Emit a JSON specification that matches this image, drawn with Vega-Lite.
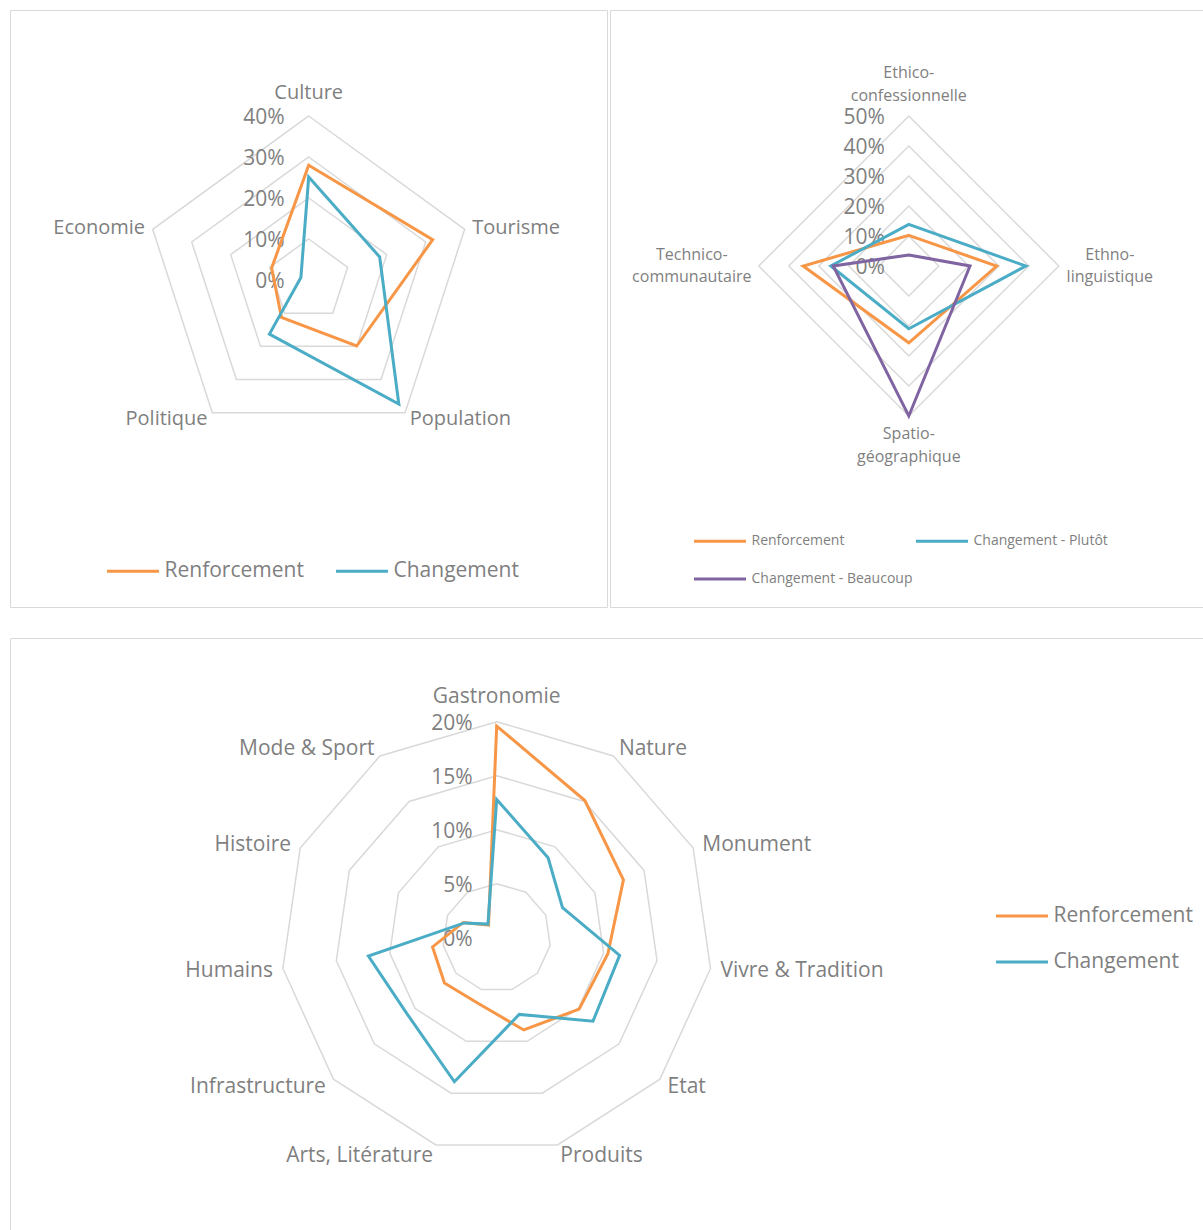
{
  "$schema": "https://vega.github.io/schema/vega-lite/v6.json",
  "padding": {"left": 9, "top": 9, "right": 0, "bottom": 0},
  "background": "white",
  "config": {
    "view": {"stroke": "#d9d9d9", "strokeWidth": 1},
    "font": "Open Sans",
    "text": {"font": "Open Sans", "color": "#7f7f7f"},
    "legend": {"title": null, "orient": "none", "symbolType": "stroke", "symbolSize": 2704, "symbolStrokeWidth": 3, "labelFont": "Open Sans", "labelColor": "#7f7f7f", "labelOffset": 4, "padding": 0, "labelLimit": 400}
  },
  "datasets": {
    "c1": [
      {"s": "Renforcement", "cat": "Culture", "k": 0, "v": 0.28},
      {"s": "Renforcement", "cat": "Tourisme", "k": 1, "v": 0.318},
      {"s": "Renforcement", "cat": "Population", "k": 2, "v": 0.199},
      {"s": "Renforcement", "cat": "Politique", "k": 3, "v": 0.113},
      {"s": "Renforcement", "cat": "Economie", "k": 4, "v": 0.095},
      {"s": "Changement", "cat": "Culture", "k": 0, "v": 0.251},
      {"s": "Changement", "cat": "Tourisme", "k": 1, "v": 0.182},
      {"s": "Changement", "cat": "Population", "k": 2, "v": 0.374},
      {"s": "Changement", "cat": "Politique", "k": 3, "v": 0.163},
      {"s": "Changement", "cat": "Economie", "k": 4, "v": 0.02}
    ],
    "c2": [
      {"s": "Renforcement", "cat": "Ethico-confessionnelle", "k": 0, "v": 0.102},
      {"s": "Renforcement", "cat": "Ethno-linguistique", "k": 1, "v": 0.293},
      {"s": "Renforcement", "cat": "Spatio-géographique", "k": 2, "v": 0.256},
      {"s": "Renforcement", "cat": "Technico-communautaire", "k": 3, "v": 0.352},
      {"s": "Changement - Plutôt", "cat": "Ethico-confessionnelle", "k": 0, "v": 0.139},
      {"s": "Changement - Plutôt", "cat": "Ethno-linguistique", "k": 1, "v": 0.39},
      {"s": "Changement - Plutôt", "cat": "Spatio-géographique", "k": 2, "v": 0.209},
      {"s": "Changement - Plutôt", "cat": "Technico-communautaire", "k": 3, "v": 0.26},
      {"s": "Changement - Beaucoup", "cat": "Ethico-confessionnelle", "k": 0, "v": 0.037},
      {"s": "Changement - Beaucoup", "cat": "Ethno-linguistique", "k": 1, "v": 0.204},
      {"s": "Changement - Beaucoup", "cat": "Spatio-géographique", "k": 2, "v": 0.5},
      {"s": "Changement - Beaucoup", "cat": "Technico-communautaire", "k": 3, "v": 0.252}
    ],
    "c3": [
      {"s": "Renforcement", "cat": "Gastronomie", "k": 0, "v": 0.196},
      {"s": "Renforcement", "cat": "Nature", "k": 1, "v": 0.151},
      {"s": "Renforcement", "cat": "Monument", "k": 2, "v": 0.129},
      {"s": "Renforcement", "cat": "Vivre & Tradition", "k": 3, "v": 0.104},
      {"s": "Renforcement", "cat": "Etat", "k": 4, "v": 0.101},
      {"s": "Renforcement", "cat": "Produits", "k": 5, "v": 0.089},
      {"s": "Renforcement", "cat": "Arts, Litérature", "k": 6, "v": 0.063},
      {"s": "Renforcement", "cat": "Infrastructure", "k": 7, "v": 0.064},
      {"s": "Renforcement", "cat": "Humains", "k": 8, "v": 0.06},
      {"s": "Renforcement", "cat": "Histoire", "k": 9, "v": 0.034},
      {"s": "Renforcement", "cat": "Mode & Sport", "k": 10, "v": 0.014},
      {"s": "Changement", "cat": "Gastronomie", "k": 0, "v": 0.128},
      {"s": "Changement", "cat": "Nature", "k": 1, "v": 0.088},
      {"s": "Changement", "cat": "Monument", "k": 2, "v": 0.067},
      {"s": "Changement", "cat": "Vivre & Tradition", "k": 3, "v": 0.115},
      {"s": "Changement", "cat": "Etat", "k": 4, "v": 0.118},
      {"s": "Changement", "cat": "Produits", "k": 5, "v": 0.074},
      {"s": "Changement", "cat": "Arts, Litérature", "k": 6, "v": 0.139},
      {"s": "Changement", "cat": "Infrastructure", "k": 7, "v": 0.109},
      {"s": "Changement", "cat": "Humains", "k": 8, "v": 0.12},
      {"s": "Changement", "cat": "Histoire", "k": 9, "v": 0.033},
      {"s": "Changement", "cat": "Mode & Sport", "k": 10, "v": 0.015}
    ]
  },
  "spacing": 29,
  "resolve": {"scale": {"color": "independent", "x": "independent", "y": "independent"}, "legend": {"color": "independent"}},
  "vconcat": [
    {
      "spacing": 1,
      "resolve": {"scale": {"color": "independent", "x": "independent", "y": "independent"}, "legend": {"color": "independent"}},
      "hconcat": [
        {
          "width": 597,
          "height": 597,
          "encoding": {
            "x": {"field": "px", "type": "quantitative", "scale": {"domain": [-1.8213, 1.8189], "nice": false, "zero": false}, "axis": null},
            "y": {"field": "py", "type": "quantitative", "scale": {"domain": [-1.9939, 1.6463], "nice": false, "zero": false}, "axis": null}
          },
          "layer": [
            {
              "data": {"values": [{"lvl": 0.1, "k": [0, 1, 2, 3, 4]}, {"lvl": 0.2, "k": [0, 1, 2, 3, 4]}, {"lvl": 0.3, "k": [0, 1, 2, 3, 4]}, {"lvl": 0.4, "k": [0, 1, 2, 3, 4]}]},
              "transform": [
                {"flatten": ["k"]},
                {"calculate": "datum.lvl / 0.4 * sin(2 * PI * datum.k / 5)", "as": "px"},
                {"calculate": "datum.lvl / 0.4 * cos(2 * PI * datum.k / 5)", "as": "py"}
              ],
              "mark": {"type": "line", "interpolate": "linear-closed", "stroke": "#d9d9d9", "strokeWidth": 1.5},
              "encoding": {"detail": {"field": "lvl", "type": "nominal"}, "order": {"field": "k", "type": "quantitative"}}
            },
            {
              "data": {"values": [{"t": 0}, {"t": 0.1}, {"t": 0.2}, {"t": 0.3}, {"t": 0.4}]},
              "transform": [
                {"calculate": "0", "as": "px"},
                {"calculate": "datum.t / 0.4", "as": "py"}
              ],
              "mark": {"type": "text", "align": "right", "baseline": "middle", "dx": -24, "dy": 2, "fontSize": 21},
              "encoding": {"text": {"field": "t", "type": "quantitative", "format": ".0%"}}
            },
            {
              "data": {"name": "c1"},
              "transform": [
                {"calculate": "datum.v / 0.4 * sin(2 * PI * datum.k / 5)", "as": "px"},
                {"calculate": "datum.v / 0.4 * cos(2 * PI * datum.k / 5)", "as": "py"}
              ],
              "mark": {"type": "line", "interpolate": "linear-closed", "strokeWidth": 3},
              "encoding": {
                "color": {"field": "s", "type": "nominal", "scale": {"domain": ["Renforcement", "Changement"], "range": ["#F79646", "#4BACC6"]},
                  "legend": {"direction": "horizontal", "legendX": 95.5, "legendY": 533.5, "labelFontSize": 21, "columnPadding": 25}},
                "order": {"field": "k", "type": "quantitative"}
              }
            },
            {
              "data": {"values": [{"t": "Culture", "k": 0}, {"t": "Tourisme", "k": 1}, {"t": "Population", "k": 2}, {"t": "Politique", "k": 3}, {"t": "Economie", "k": 4}]},
              "transform": [
                {"calculate": "sin(2 * PI * datum.k / 5)", "as": "sx"},
                {"calculate": "cos(2 * PI * datum.k / 5)", "as": "cy"},
                {"calculate": "(1 + 8 / 164) * datum.sx", "as": "px"},
                {"calculate": "(1 + 8 / 164) * datum.cy", "as": "py"}
              ],
              "mark": {"type": "text", "fontSize": 20,
                "align": {"expr": "datum.sx > 0.05 ? 'left' : (datum.sx < -0.05 ? 'right' : 'center')"},
                "baseline": {"expr": "abs(datum.sx) <= 0.05 ? (datum.cy > 0 ? 'bottom' : 'top') : 'middle'"},
                "dy": {"expr": "datum.k == 0 ? -5 : (datum.k == 1 || datum.k == 4 ? 1 : 0)"}},
              "encoding": {"text": {"field": "t", "type": "nominal"}}
            }
          ]
        },
        {
          "width": 593,
          "height": 597,
          "encoding": {
            "x": {"field": "px", "type": "quantitative", "scale": {"domain": [-1.992, 1.9613], "nice": false, "zero": false}, "axis": null},
            "y": {"field": "py", "type": "quantitative", "scale": {"domain": [-2.2733, 1.7067], "nice": false, "zero": false}, "axis": null}
          },
          "layer": [
            {
              "data": {"values": [{"lvl": 0.1, "k": [0, 1, 2, 3]}, {"lvl": 0.2, "k": [0, 1, 2, 3]}, {"lvl": 0.3, "k": [0, 1, 2, 3]}, {"lvl": 0.4, "k": [0, 1, 2, 3]}, {"lvl": 0.5, "k": [0, 1, 2, 3]}]},
              "transform": [
                {"flatten": ["k"]},
                {"calculate": "datum.lvl / 0.5 * sin(2 * PI * datum.k / 4)", "as": "px"},
                {"calculate": "datum.lvl / 0.5 * cos(2 * PI * datum.k / 4)", "as": "py"}
              ],
              "mark": {"type": "line", "interpolate": "linear-closed", "stroke": "#d9d9d9", "strokeWidth": 1.5},
              "encoding": {"detail": {"field": "lvl", "type": "nominal"}, "order": {"field": "k", "type": "quantitative"}}
            },
            {
              "data": {"values": [{"t": 0}, {"t": 0.1}, {"t": 0.2}, {"t": 0.3}, {"t": 0.4}, {"t": 0.5}]},
              "transform": [
                {"calculate": "0", "as": "px"},
                {"calculate": "datum.t / 0.5", "as": "py"}
              ],
              "mark": {"type": "text", "align": "right", "baseline": "middle", "dx": -24, "dy": 2, "fontSize": 21},
              "encoding": {"text": {"field": "t", "type": "quantitative", "format": ".0%"}}
            },
            {
              "data": {"name": "c2"},
              "transform": [
                {"calculate": "datum.v / 0.5 * sin(2 * PI * datum.k / 4)", "as": "px"},
                {"calculate": "datum.v / 0.5 * cos(2 * PI * datum.k / 4)", "as": "py"}
              ],
              "mark": {"type": "line", "interpolate": "linear-closed", "strokeWidth": 3},
              "encoding": {
                "color": {"field": "s", "type": "nominal", "scale": {"domain": ["Renforcement", "Changement - Plutôt", "Changement - Beaucoup"], "range": ["#F79646", "#4BACC6", "#8064A2"]},
                  "legend": {"direction": "horizontal", "columns": 2, "legendX": 82.5, "legendY": 503.5, "labelFontSize": 14, "columnPadding": -3, "rowPadding": 3}},
                "order": {"field": "k", "type": "quantitative"}
              }
            },
            {
              "data": {"values": [{"t": ["Ethico-", "confessionnelle"], "k": 0}, {"t": ["Ethno-", "linguistique"], "k": 1}, {"t": ["Spatio-", "géographique"], "k": 2}, {"t": ["Technico-", "communautaire"], "k": 3}]},
              "transform": [
                {"calculate": "sin(2 * PI * datum.k / 4)", "as": "sx"},
                {"calculate": "cos(2 * PI * datum.k / 4)", "as": "cy"},
                {"calculate": "(1 + 10 / 150) * datum.sx", "as": "px"},
                {"calculate": "(1 + 10 / 150) * datum.cy", "as": "py"}
              ],
              "mark": {"type": "text", "fontSize": 16, "lineHeight": 22.5, "align": "center",
                "dx": {"expr": "datum.k == 1 ? 41 : (datum.k == 3 ? -57 : 0)"},
                "dy": {"expr": "datum.k == 0 ? -25 : (datum.k == 2 ? 0 : -11.5)"},
                "baseline": {"expr": "abs(datum.sx) <= 0.05 ? (datum.cy > 0 ? 'bottom' : 'top') : 'middle'"}},
              "encoding": {"text": {"field": "t", "type": "nominal"}}
            }
          ]
        }
      ]
    },
    {
      "width": 1193,
      "height": 592,
      "encoding": {
        "x": {"field": "px", "type": "quantitative", "scale": {"domain": [-2.2532, 3.2699], "nice": false, "zero": false}, "axis": null},
        "y": {"field": "py", "type": "quantitative", "scale": {"domain": [-1.3532, 1.3875], "nice": false, "zero": false}, "axis": null}
      },
      "layer": [
        {
          "data": {"values": [{"lvl": 0.05, "k": [0, 1, 2, 3, 4, 5, 6, 7, 8, 9, 10]}, {"lvl": 0.1, "k": [0, 1, 2, 3, 4, 5, 6, 7, 8, 9, 10]}, {"lvl": 0.15, "k": [0, 1, 2, 3, 4, 5, 6, 7, 8, 9, 10]}, {"lvl": 0.2, "k": [0, 1, 2, 3, 4, 5, 6, 7, 8, 9, 10]}]},
          "transform": [
            {"flatten": ["k"]},
            {"calculate": "datum.lvl / 0.2 * sin(2 * PI * datum.k / 11)", "as": "px"},
            {"calculate": "datum.lvl / 0.2 * cos(2 * PI * datum.k / 11)", "as": "py"}
          ],
          "mark": {"type": "line", "interpolate": "linear-closed", "stroke": "#d9d9d9", "strokeWidth": 1.5},
          "encoding": {"detail": {"field": "lvl", "type": "nominal"}, "order": {"field": "k", "type": "quantitative"}}
        },
        {
          "data": {"values": [{"t": 0}, {"t": 0.05}, {"t": 0.1}, {"t": 0.15}, {"t": 0.2}]},
          "transform": [
            {"calculate": "0", "as": "px"},
            {"calculate": "datum.t / 0.2", "as": "py"}
          ],
          "mark": {"type": "text", "align": "right", "baseline": "middle", "dx": -24, "dy": 2, "fontSize": 21},
          "encoding": {"text": {"field": "t", "type": "quantitative", "format": ".0%"}}
        },
        {
          "data": {"name": "c3"},
          "transform": [
            {"calculate": "datum.v / 0.2 * sin(2 * PI * datum.k / 11)", "as": "px"},
            {"calculate": "datum.v / 0.2 * cos(2 * PI * datum.k / 11)", "as": "py"}
          ],
          "mark": {"type": "line", "interpolate": "linear-closed", "strokeWidth": 3},
          "encoding": {
            "color": {"field": "s", "type": "nominal", "scale": {"domain": ["Renforcement", "Changement"], "range": ["#F79646", "#4BACC6"]},
              "legend": {"direction": "vertical", "legendX": 984.5, "legendY": 250.5, "labelFontSize": 21, "rowPadding": 8}},
            "order": {"field": "k", "type": "quantitative"}
          }
        },
        {
          "data": {"values": [{"t": "Gastronomie", "k": 0}, {"t": "Nature", "k": 1}, {"t": "Monument", "k": 2}, {"t": "Vivre & Tradition", "k": 3}, {"t": "Etat", "k": 4}, {"t": "Produits", "k": 5}, {"t": "Arts, Litérature", "k": 6}, {"t": "Infrastructure", "k": 7}, {"t": "Humains", "k": 8}, {"t": "Histoire", "k": 9}, {"t": "Mode & Sport", "k": 10}]},
          "transform": [
            {"calculate": "sin(2 * PI * datum.k / 11)", "as": "sx"},
            {"calculate": "cos(2 * PI * datum.k / 11)", "as": "cy"},
            {"calculate": "(1 + 10 / 216) * datum.sx", "as": "px"},
            {"calculate": "(1 + 10 / 216) * datum.cy", "as": "py"}
          ],
          "mark": {"type": "text", "fontSize": 21,
            "align": {"expr": "datum.sx > 0.05 ? 'left' : (datum.sx < -0.05 ? 'right' : 'center')"},
            "baseline": {"expr": "abs(datum.sx) <= 0.05 ? (datum.cy > 0 ? 'bottom' : 'top') : 'middle'"},
            "dy": {"expr": "datum.k == 0 ? -5 : 1"}},
          "encoding": {"text": {"field": "t", "type": "nominal"}}
        }
      ]
    }
  ]
}
